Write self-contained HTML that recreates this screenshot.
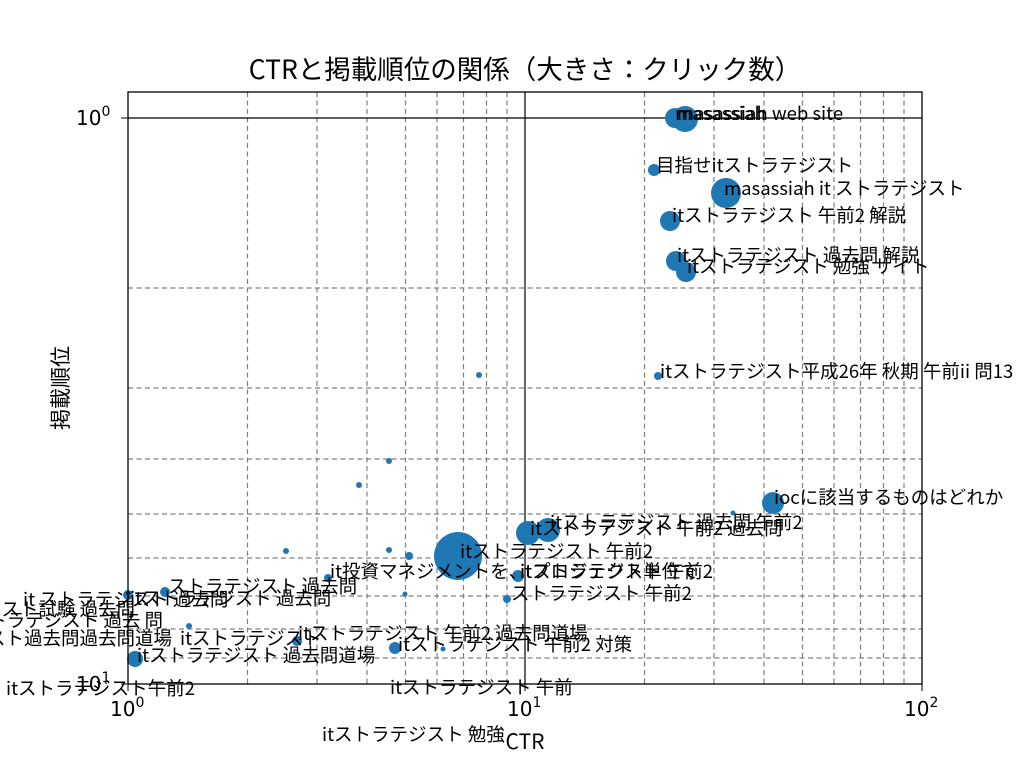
<!DOCTYPE html>
<html><head><meta charset="utf-8"><style>
html,body{margin:0;padding:0;background:#fff;}
svg{display:block;font-family:"Noto Sans CJK JP","Liberation Sans",sans-serif;}
</style></head><body>
<svg width="1024" height="768" viewBox="0 0 1024 768" xmlns="http://www.w3.org/2000/svg">
<rect width="1024" height="768" fill="#fff"/>
<g stroke="#808080" stroke-width="1.2" stroke-dasharray="5,3.5" fill="none">
<line x1="247.5" y1="92" x2="247.5" y2="684"/><line x1="317" y1="92" x2="317" y2="684"/><line x1="367" y1="92" x2="367" y2="684"/><line x1="405.5" y1="92" x2="405.5" y2="684"/><line x1="437" y1="92" x2="437" y2="684"/><line x1="463.5" y1="92" x2="463.5" y2="684"/><line x1="486.5" y1="92" x2="486.5" y2="684"/><line x1="507" y1="92" x2="507" y2="684"/>
<line x1="644.5" y1="92" x2="644.5" y2="684"/><line x1="714" y1="92" x2="714" y2="684"/><line x1="764" y1="92" x2="764" y2="684"/><line x1="802.5" y1="92" x2="802.5" y2="684"/><line x1="834" y1="92" x2="834" y2="684"/><line x1="860.5" y1="92" x2="860.5" y2="684"/><line x1="883.5" y1="92" x2="883.5" y2="684"/><line x1="904" y1="92" x2="904" y2="684"/>
<line x1="128" y1="288" x2="922" y2="288"/><line x1="128" y1="388" x2="922" y2="388"/><line x1="128" y1="459" x2="922" y2="459"/><line x1="128" y1="514" x2="922" y2="514"/><line x1="128" y1="558" x2="922" y2="558"/><line x1="128" y1="596" x2="922" y2="596"/><line x1="128" y1="629" x2="922" y2="629"/><line x1="128" y1="658" x2="922" y2="658"/>
</g>
<g stroke="#000" stroke-width="1.2">
<line x1="525" y1="92" x2="525" y2="684"/><line x1="128" y1="118" x2="922" y2="118"/>
</g>
<g fill="#1f77b4">
<circle cx="675" cy="118" r="10"/><circle cx="685" cy="119" r="13"/><circle cx="654" cy="170" r="6"/><circle cx="726" cy="193" r="15"/><circle cx="670" cy="221" r="10"/><circle cx="676" cy="261" r="10"/><circle cx="686" cy="272" r="10"/><circle cx="658" cy="376" r="4"/><circle cx="479" cy="375" r="3"/><circle cx="389" cy="461" r="3"/><circle cx="359" cy="485" r="3"/><circle cx="773" cy="503" r="11"/><circle cx="733" cy="513" r="2.5"/><circle cx="528" cy="533" r="12"/><circle cx="548" cy="530" r="12"/><circle cx="286" cy="551" r="3"/><circle cx="389" cy="550" r="3"/><circle cx="409" cy="556" r="4"/><circle cx="458" cy="556" r="24"/><circle cx="518" cy="576" r="6"/><circle cx="328" cy="578" r="4"/><circle cx="405" cy="594" r="2.5"/><circle cx="507" cy="599" r="4"/><circle cx="165" cy="592" r="5"/><circle cx="128" cy="595" r="5"/><circle cx="189" cy="626" r="3"/><circle cx="297" cy="641" r="5"/><circle cx="395" cy="648" r="6"/><circle cx="443" cy="649" r="2.5"/><circle cx="135" cy="659" r="8"/>
</g>
<rect x="128" y="92" width="794" height="592" fill="none" stroke="#000" stroke-width="1.3"/>
<g stroke="#000" stroke-width="1">
<line x1="128" y1="684" x2="128" y2="691"/><line x1="525" y1="684" x2="525" y2="691"/><line x1="922" y1="684" x2="922" y2="691"/>
<line x1="121" y1="118" x2="128" y2="118"/><line x1="121" y1="684" x2="128" y2="684"/>
</g>
<g font-size="18.5" fill="#000">
<text x="675" y="120">masassiah</text><text x="677" y="120">masassiah web site</text>
<text x="656" y="172">目指せitストラテジスト</text>
<text x="724" y="195">masassiah it ストラテジスト</text>
<text x="672" y="222">itストラテジスト 午前2 解説</text>
<text x="677" y="262">itストラテジスト 過去問 解説</text>
<text x="687" y="273">itストラテジスト 勉強 サイト</text>
<text x="660" y="378">itストラテジスト平成26年 秋期 午前ii 問13</text>
<text x="774" y="504">iocに該当するものはどれか</text>
<text x="550" y="529">itストラテジスト 過去問 午前2</text>
<text x="530" y="535">itストラテジスト 午前2 過去問</text>
<text x="460" y="558">itストラテジスト 午前2</text>
<text x="330" y="578">it投資マネジメントを、</text>
<text x="520" y="578">itプロジェクト単位で</text>
<text x="520" y="578">itストラテジスト 午前2</text>
<text x="511" y="600">ストラテジスト 午前2</text>
<text x="168" y="593">ストラテジスト 過去問</text>
<text x="130" y="605">itストラテジスト 過去問</text>
<text x="23" y="606">it ストラテジスト 過去問</text>
<text x="135" y="616" text-anchor="end">ストラテジスト試験 過去問</text>
<text x="163" y="627" text-anchor="end">itストラテジスト 過去 問</text>
<text x="172" y="645" text-anchor="end">itストラテジスト過去問過去問道場</text>
<text x="180" y="645">itストラテジスト</text>
<text x="298" y="640">itストラテジスト 午前2 過去問道場</text>
<text x="398" y="651">itストラテジスト 午前2 対策</text>
<text x="137" y="662">itストラテジスト 過去問道場</text>
<text x="6" y="695">itストラテジスト午前2</text>
<text x="390" y="694">itストラテジスト 午前</text>
<text x="322" y="741">itストラテジスト 勉強</text>
</g>
<g font-size="20" fill="#000" font-family="'DejaVu Sans',sans-serif">
<text x="76" y="125">10<tspan font-size="14" dy="-9">0</tspan></text>
<text x="76" y="691">10<tspan font-size="14" dy="-9">1</tspan></text>
<text x="110" y="716">10<tspan font-size="14" dy="-9">0</tspan></text>
<text x="507" y="716">10<tspan font-size="14" dy="-9">1</tspan></text>
<text x="904" y="716">10<tspan font-size="14" dy="-9">2</tspan></text>
</g>
<text x="525" y="749" font-size="21" text-anchor="middle">CTR</text>
<text x="525" y="79" font-size="26.5" text-anchor="middle">CTRと掲載順位の関係（大きさ：クリック数）</text>
<text transform="translate(68,388) rotate(-90)" font-size="21" text-anchor="middle">掲載順位</text>
</svg>
</body></html>
